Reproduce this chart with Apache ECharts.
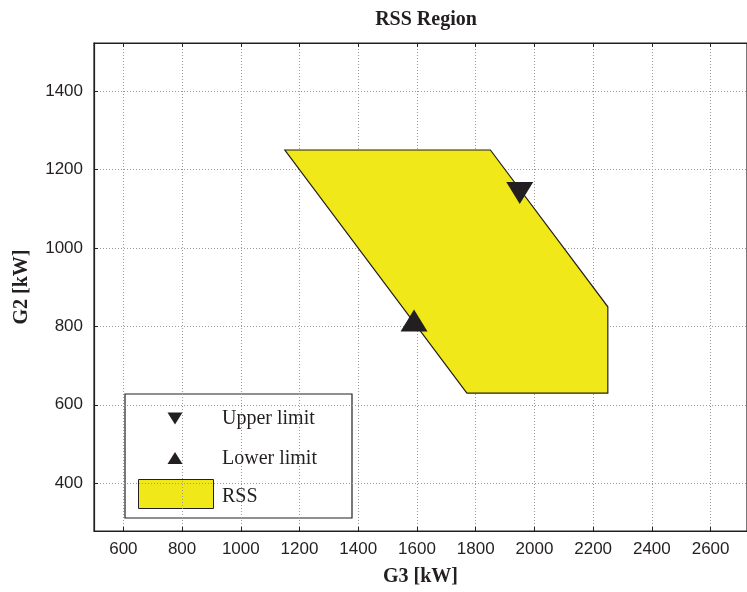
<!DOCTYPE html>
<html>
<head>
<meta charset="utf-8">
<script src="https://cdn.jsdelivr.net/npm/echarts@6/dist/echarts.min.js"></script>
<style>html,body{margin:0;padding:0;background:#fff;}#c{width:747px;height:592px;}</style>
</head>
<body>
<div id="c"></div>
<script>
// ---- data ----
const rssG3 = [1150, 1850, 2250, 2250, 1770];
const rssG2 = [1250, 1250, 850, 630, 630];
const upperLimit = [[1950, 1140]];
const lowerLimit = [[1590, 815]];
const xRange = [500, 2724];
const yRange = [278, 1523];
const titleText = 'RSS Region';
const xName = 'G3 [kW]';
const yName = 'G2 [kW]';
const legendNames = ['Upper limit', 'Lower limit', 'RSS'];

const rssPoints = rssG3.map((g3, i) => [g3, rssG2[i]]);
const ink = '#231f20';
const yellow = '#f1e81a';

const chart = echarts.init(document.getElementById('c'), null, {renderer: 'canvas'});

const gridLine = {show: true, lineStyle: {color: '#9a9a9a', type: [1, 2], width: 1}};
const plain = v => String(Math.round(v));

const option = {
  backgroundColor: '#fff',
  animation: false,
  title: {
    text: titleText, left: 421, top: 5, textAlign: 'center',
    textStyle: {fontFamily: 'Liberation Serif', fontWeight: 'bold', fontSize: 20, color: ink}
  },
  grid: {left: 94, top: 43, width: 654, height: 490, show: true, borderColor: ink, borderWidth: 1.2, containLabel: false},
  xAxis: [{
    type: 'value', min: xRange[0], max: xRange[1], splitNumber: 11, position: 'bottom',
    name: xName, nameLocation: 'middle', nameGap: 36,
    nameTextStyle: {fontFamily: 'Liberation Serif', fontWeight: 'bold', fontSize: 20, color: ink},
    axisLine: {show: true, onZero: false, lineStyle: {color: ink, width: 1.2}},
    axisTick: {show: true, inside: true, length: 4, lineStyle: {color: ink}},
    axisLabel: {fontFamily: 'Liberation Sans', fontSize: 17, color: ink, margin: 10, showMinLabel: false, showMaxLabel: false, formatter: plain},
    splitLine: gridLine
  }, {
    type: 'value', min: xRange[0], max: xRange[1], splitNumber: 11, position: 'top',
    axisLine: {show: true, onZero: false, lineStyle: {color: ink, width: 1.2}},
    axisTick: {show: true, inside: true, length: 4, lineStyle: {color: ink}},
    axisLabel: {show: false}, splitLine: {show: false}
  }],
  yAxis: [{
    type: 'value', min: yRange[0], max: yRange[1], splitNumber: 6,
    name: yName, nameLocation: 'middle', nameGap: 62, nameRotate: 90,
    nameTextStyle: {fontFamily: 'Liberation Serif', fontWeight: 'bold', fontSize: 20, color: ink},
    axisLine: {show: true, onZero: false, lineStyle: {color: ink, width: 1.2}},
    axisTick: {show: true, inside: true, length: 4, lineStyle: {color: ink}},
    axisLabel: {fontFamily: 'Liberation Sans', fontSize: 17, color: ink, margin: 11, showMinLabel: false, showMaxLabel: false, formatter: plain},
    splitLine: gridLine
  }],
  series: [{
    type: 'custom',
    name: 'RSS',
    data: rssPoints,
    z: 2,
    renderItem: function (params, api) {
      if (params.dataIndex !== 0) return null;
      const pts = rssPoints.map(p => api.coord(p));
      return {
        type: 'polygon',
        shape: {points: pts},
        style: {fill: yellow, stroke: ink, lineWidth: 1.2}
      };
    }
  }, {
    type: 'scatter', name: 'Upper limit', data: upperLimit, z: 5,
    symbol: 'triangle', symbolRotate: 180, symbolSize: [27, 22],
    itemStyle: {color: ink, opacity: 1}
  }, {
    type: 'scatter', name: 'Lower limit', data: lowerLimit, z: 5,
    symbol: 'triangle', symbolSize: [27, 22],
    itemStyle: {color: ink, opacity: 1}
  }],
  graphic: [{
    type: 'group', z: 100, children: [
      {type: 'rect', shape: {x: 125, y: 394, width: 227, height: 124}, style: {fill: '#fff', stroke: ink, lineWidth: 1.2}},
      {type: 'polygon', shape: {points: [[167.5, 412.5], [182.5, 412.5], [175, 424.5]]}, style: {fill: ink}},
      {type: 'polygon', shape: {points: [[167.5, 464], [182.5, 464], [175, 452]]}, style: {fill: ink}},
      {type: 'rect', shape: {x: 138.5, y: 479.5, width: 75, height: 29}, style: {fill: yellow, stroke: ink, lineWidth: 1}},
      {type: 'text', x: 222, y: 419, style: {text: legendNames[0], fontFamily: 'Liberation Serif', fontSize: 20, fill: ink, verticalAlign: 'middle'}},
      {type: 'text', x: 222, y: 459, style: {text: legendNames[1], fontFamily: 'Liberation Serif', fontSize: 20, fill: ink, verticalAlign: 'middle'}},
      {type: 'text', x: 222, y: 497, style: {text: legendNames[2], fontFamily: 'Liberation Serif', fontSize: 20, fill: ink, verticalAlign: 'middle'}}
    ]
  }]
};
chart.setOption(option);
</script>
</body>
</html>
